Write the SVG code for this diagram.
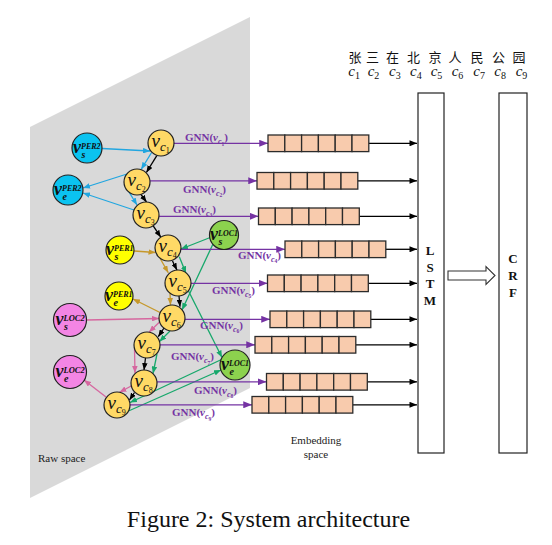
<svg xmlns="http://www.w3.org/2000/svg" xmlns:xlink="http://www.w3.org/1999/xlink" width="552" height="545" viewBox="0 0 552 545">
<style>
.plane{fill:#D9D9D9}
.cn{fill:#FFD966;stroke:#222;stroke-width:1.2}
.cy{fill:#0BC3F0;stroke:#222;stroke-width:1.2}
.ye{fill:#FFFF00;stroke:#222;stroke-width:1.2}
.gr{fill:#8CD24E;stroke:#222;stroke-width:1.2}
.pk{fill:#F385E4;stroke:#222;stroke-width:1.2}
.vl{font-family:"Liberation Serif",serif;font-style:italic;font-size:19px;fill:#111}
.vb{font-family:"Liberation Serif",serif;font-style:italic;font-weight:bold;font-size:18px;fill:#111}
.gnn{font-family:"Liberation Serif",serif;font-weight:bold;font-size:11px;fill:#7533A3}
.cell{fill:#F8CBAD;stroke:#2b2b2b;stroke-width:1.3}
.box{fill:#fff;stroke:#222;stroke-width:1.2}
.bl{font-family:"Liberation Serif",serif;font-weight:bold;font-size:13px;fill:#111;text-anchor:middle}
.sm{font-family:"Liberation Serif",serif;font-size:11px;fill:#222}
.zh{font-family:"Noto Sans CJK SC",sans-serif;font-size:13px;fill:#111;text-anchor:middle}
.ci{font-family:"Liberation Serif",serif;font-style:italic;font-size:15px;fill:#111}
.e{fill:none;stroke-width:1.3}
.k{stroke:#000}
.c{stroke:#22A6E0}
.g{stroke:#C6982A}
.n{stroke:#17A86B}
.p{stroke:#D6679F}
.u{stroke:#7533A3}
</style>
<defs>
<marker id="mk" viewBox="0 0 10 8" refX="10" refY="4" markerWidth="7" markerHeight="5.6" markerUnits="userSpaceOnUse" orient="auto"><path d="M0,0L10,4L0,8z" fill="#000"/></marker>
<marker id="mc" viewBox="0 0 10 8" refX="10" refY="4" markerWidth="7" markerHeight="5.6" markerUnits="userSpaceOnUse" orient="auto"><path d="M0,0L10,4L0,8z" fill="#22A6E0"/></marker>
<marker id="mg" viewBox="0 0 10 8" refX="10" refY="4" markerWidth="7" markerHeight="5.6" markerUnits="userSpaceOnUse" orient="auto"><path d="M0,0L10,4L0,8z" fill="#C6982A"/></marker>
<marker id="mn" viewBox="0 0 10 8" refX="10" refY="4" markerWidth="7" markerHeight="5.6" markerUnits="userSpaceOnUse" orient="auto"><path d="M0,0L10,4L0,8z" fill="#17A86B"/></marker>
<marker id="mp" viewBox="0 0 10 8" refX="10" refY="4" markerWidth="7" markerHeight="5.6" markerUnits="userSpaceOnUse" orient="auto"><path d="M0,0L10,4L0,8z" fill="#D6679F"/></marker>
<marker id="mu" viewBox="0 0 10 8" refX="10" refY="4" markerWidth="9" markerHeight="7" markerUnits="userSpaceOnUse" orient="auto"><path d="M0,0L10,4L0,8z" fill="#7533A3"/></marker>
<marker id="ml" viewBox="0 0 10 8" refX="10" refY="4" markerWidth="8" markerHeight="6" markerUnits="userSpaceOnUse" orient="auto"><path d="M0,0L10,4L0,8z" fill="#000"/></marker>
<g id="bar">
<rect class="cell" x="0" y="0" width="16.8" height="16.6"/>
<rect class="cell" x="16.8" y="0" width="16.8" height="16.6"/>
<rect class="cell" x="33.6" y="0" width="16.8" height="16.6"/>
<rect class="cell" x="50.4" y="0" width="16.8" height="16.6"/>
<rect class="cell" x="67.2" y="0" width="16.8" height="16.6"/>
<rect class="cell" x="84" y="0" width="16.8" height="16.6"/>
</g>
</defs>
<rect width="552" height="545" fill="#fff"/>
<polygon class="plane" points="30,127 250,17 250,388 30,498"/>
<text class="sm" x="38" y="462">Raw space</text>
<text class="sm" x="316" y="444" text-anchor="middle">Embedding</text>
<text class="sm" x="316" y="458" text-anchor="middle">space</text>

<g id="tokens">
<text class="zh" x="355" y="62">张</text>
<text class="zh" x="372.5" y="62">三</text>
<text class="zh" x="392.5" y="62">在</text>
<text class="zh" x="413.5" y="62">北</text>
<text class="zh" x="435" y="62">京</text>
<text class="zh" x="455" y="62">人</text>
<text class="zh" x="477" y="62">民</text>
<text class="zh" x="498.5" y="62">公</text>
<text class="zh" x="519" y="62">园</text>
<text class="ci" x="348.3" y="76">c<tspan font-size="10" font-style="normal" dy="3">1</tspan></text>
<text class="ci" x="367.7" y="76">c<tspan font-size="10" font-style="normal" dy="3">2</tspan></text>
<text class="ci" x="389" y="76">c<tspan font-size="10" font-style="normal" dy="3">3</tspan></text>
<text class="ci" x="410" y="76">c<tspan font-size="10" font-style="normal" dy="3">4</tspan></text>
<text class="ci" x="430.7" y="76">c<tspan font-size="10" font-style="normal" dy="3">5</tspan></text>
<text class="ci" x="451.7" y="76">c<tspan font-size="10" font-style="normal" dy="3">6</tspan></text>
<text class="ci" x="473.3" y="76">c<tspan font-size="10" font-style="normal" dy="3">7</tspan></text>
<text class="ci" x="494.3" y="76">c<tspan font-size="10" font-style="normal" dy="3">8</tspan></text>
<text class="ci" x="515.7" y="76">c<tspan font-size="10" font-style="normal" dy="3">9</tspan></text>
</g>

<g id="connectors">
<line class="e k" x1="156.8" y1="155.7" x2="146.4" y2="172.5" marker-end="url(#mk)"/>
<line class="e k" x1="141" y1="194.5" x2="146.5" y2="202" marker-end="url(#mk)"/>
<line class="e k" x1="153.2" y1="225.8" x2="160.8" y2="237.2" marker-end="url(#mk)"/>
<line class="e k" x1="172.5" y1="261" x2="177" y2="270.1" marker-end="url(#mk)"/>
<line class="e k" x1="179" y1="296" x2="180" y2="306.7" marker-end="url(#mk)"/>
<line class="e k" x1="164" y1="328" x2="158.3" y2="336.7" marker-end="url(#mk)"/>
<line class="e k" x1="145.5" y1="358" x2="144" y2="370" marker-end="url(#mk)"/>
<line class="e k" x1="134.5" y1="392.5" x2="129.5" y2="400" marker-end="url(#mk)"/>
<line class="e c" x1="102" y1="148.5" x2="150" y2="151" marker-end="url(#mc)"/>
<line class="e c" x1="151.6" y1="152.5" x2="141.2" y2="169.3" marker-end="url(#mc)"/>
<line class="e c" x1="127" y1="174" x2="83" y2="188" marker-end="url(#mc)"/>
<line class="e c" x1="129" y1="192" x2="137" y2="205" marker-end="url(#mc)"/>
<line class="e c" x1="134" y1="210" x2="83" y2="193" marker-end="url(#mc)"/>
<line class="e g" x1="134" y1="251" x2="155.5" y2="252.5" marker-end="url(#mg)"/>
<line class="e g" x1="160" y1="258.3" x2="168.3" y2="272.7" marker-end="url(#mg)"/>
<line class="e g" x1="170" y1="293" x2="170.5" y2="305" marker-end="url(#mg)"/>
<line class="e g" x1="160" y1="312.5" x2="133" y2="299" marker-end="url(#mg)"/>
<line class="e n" x1="210.2" y1="237.5" x2="181" y2="249" marker-end="url(#mn)"/>
<line class="e n" x1="179.3" y1="256.7" x2="186" y2="273.3" marker-end="url(#mn)"/>
<line class="e n" x1="213" y1="244" x2="182" y2="310" marker-end="url(#mn)"/>
<line class="e n" x1="188.5" y1="291" x2="222" y2="357.5" marker-end="url(#mn)"/>
<line class="e n" x1="170" y1="331" x2="159.5" y2="341.5" marker-end="url(#mn)"/>
<line class="e n" x1="157" y1="354" x2="153" y2="373.5" marker-end="url(#mn)"/>
<line class="e n" x1="221.5" y1="359.5" x2="130" y2="402.5" marker-end="url(#mn)"/>
<line class="e n" x1="128.5" y1="411" x2="221" y2="370" marker-end="url(#mn)"/>
<line class="e p" x1="86.5" y1="320" x2="159" y2="318.5" marker-end="url(#mp)"/>
<line class="e p" x1="159.5" y1="322" x2="149" y2="332.2" marker-end="url(#mp)"/>
<line class="e p" x1="134.5" y1="349" x2="135" y2="373" marker-end="url(#mp)"/>
<line class="e p" x1="131.2" y1="386" x2="119.5" y2="392.3" marker-end="url(#mp)"/>
<line class="e p" x1="106" y1="397" x2="84" y2="380" marker-end="url(#mp)"/>
<line class="e u" x1="174" y1="143.3" x2="268" y2="143.3" marker-end="url(#mu)"/>
<line class="e u" x1="150" y1="180.8" x2="257" y2="180.8" marker-end="url(#mu)"/>
<line class="e u" x1="159" y1="216.3" x2="258.5" y2="216.3" marker-end="url(#mu)"/>
<line class="e u" x1="181" y1="249.3" x2="285" y2="249.3" marker-end="url(#mu)"/>
<line class="e u" x1="191" y1="283.3" x2="267.5" y2="283.3" marker-end="url(#mu)"/>
<line class="e u" x1="185" y1="319.3" x2="270" y2="319.3" marker-end="url(#mu)"/>
<line class="e u" x1="160" y1="344.8" x2="255" y2="344.8" marker-end="url(#mu)"/>
<line class="e u" x1="157" y1="381.8" x2="266.5" y2="381.8" marker-end="url(#mu)"/>
<line class="e u" x1="130" y1="404.8" x2="252" y2="404.8" marker-end="url(#mu)"/>
<line class="e k" x1="368.8" y1="143.3" x2="417" y2="143.3" marker-end="url(#ml)"/>
<line class="e k" x1="357.8" y1="180.8" x2="417" y2="180.8" marker-end="url(#ml)"/>
<line class="e k" x1="359.3" y1="216.3" x2="417" y2="216.3" marker-end="url(#ml)"/>
<line class="e k" x1="385.8" y1="249.3" x2="417" y2="249.3" marker-end="url(#ml)"/>
<line class="e k" x1="368.3" y1="283.3" x2="417" y2="283.3" marker-end="url(#ml)"/>
<line class="e k" x1="370.8" y1="319.3" x2="417" y2="319.3" marker-end="url(#ml)"/>
<line class="e k" x1="355.8" y1="344.8" x2="417" y2="344.8" marker-end="url(#ml)"/>
<line class="e k" x1="367.3" y1="381.8" x2="417" y2="381.8" marker-end="url(#ml)"/>
<line class="e k" x1="352.8" y1="404.8" x2="417" y2="404.8" marker-end="url(#ml)"/>
<path d="M448,271L486,271L486,266.5L495,275.5L486,284.5L486,280L448,280Z" fill="#fff" stroke="#333" stroke-width="1.1"/>
</g>

<g id="gnn-labels">
<text class="gnn" x="185" y="141">GNN(<tspan font-style="italic">v</tspan><tspan font-style="italic" font-size="8" dy="3">c</tspan><tspan font-size="5.5" dy="1.5">1</tspan><tspan dy="-4.5">)</tspan></text>
<text class="gnn" x="183" y="192.5">GNN(<tspan font-style="italic">v</tspan><tspan font-style="italic" font-size="8" dy="3">c</tspan><tspan font-size="5.5" dy="1.5">2</tspan><tspan dy="-4.5">)</tspan></text>
<text class="gnn" x="173" y="212.5">GNN(<tspan font-style="italic">v</tspan><tspan font-style="italic" font-size="8" dy="3">c</tspan><tspan font-size="5.5" dy="1.5">3</tspan><tspan dy="-4.5">)</tspan></text>
<text class="gnn" x="238" y="258.5">GNN(<tspan font-style="italic">v</tspan><tspan font-style="italic" font-size="8" dy="3">c</tspan><tspan font-size="5.5" dy="1.5">4</tspan><tspan dy="-4.5">)</tspan></text>
<text class="gnn" x="212" y="293.5">GNN(<tspan font-style="italic">v</tspan><tspan font-style="italic" font-size="8" dy="3">c</tspan><tspan font-size="5.5" dy="1.5">5</tspan><tspan dy="-4.5">)</tspan></text>
<text class="gnn" x="200" y="328.5">GNN(<tspan font-style="italic">v</tspan><tspan font-style="italic" font-size="8" dy="3">c</tspan><tspan font-size="5.5" dy="1.5">6</tspan><tspan dy="-4.5">)</tspan></text>
<text class="gnn" x="171" y="360">GNN(<tspan font-style="italic">v</tspan><tspan font-style="italic" font-size="8" dy="3">c</tspan><tspan font-size="5.5" dy="1.5">7</tspan><tspan dy="-4.5">)</tspan></text>
<text class="gnn" x="194" y="393.5">GNN(<tspan font-style="italic">v</tspan><tspan font-style="italic" font-size="8" dy="3">c</tspan><tspan font-size="5.5" dy="1.5">8</tspan><tspan dy="-4.5">)</tspan></text>
<text class="gnn" x="172" y="416">GNN(<tspan font-style="italic">v</tspan><tspan font-style="italic" font-size="8" dy="3">c</tspan><tspan font-size="5.5" dy="1.5">9</tspan><tspan dy="-4.5">)</tspan></text>
</g>

<g id="node-c1"><circle class="cn" cx="161" cy="143" r="13"/><text class="vl" x="151.5" y="147">v<tspan font-size="13" dy="4">c</tspan><tspan font-size="8" font-style="normal" dy="2">1</tspan></text></g>
<g id="node-c2"><circle class="cn" cx="137" cy="182" r="13"/><text class="vl" x="127.5" y="186">v<tspan font-size="13" dy="4">c</tspan><tspan font-size="8" font-style="normal" dy="2">2</tspan></text></g>
<g id="node-c3"><circle class="cn" cx="146" cy="215" r="13"/><text class="vl" x="136.5" y="219">v<tspan font-size="13" dy="4">c</tspan><tspan font-size="8" font-style="normal" dy="2">3</tspan></text></g>
<g id="node-c4"><circle class="cn" cx="168" cy="248" r="13"/><text class="vl" x="158.5" y="252">v<tspan font-size="13" dy="4">c</tspan><tspan font-size="8" font-style="normal" dy="2">4</tspan></text></g>
<g id="node-c5"><circle class="cn" cx="178" cy="283" r="13"/><text class="vl" x="168.5" y="287">v<tspan font-size="13" dy="4">c</tspan><tspan font-size="8" font-style="normal" dy="2">5</tspan></text></g>
<g id="node-c6"><circle class="cn" cx="172" cy="318" r="13"/><text class="vl" x="162.5" y="322">v<tspan font-size="13" dy="4">c</tspan><tspan font-size="8" font-style="normal" dy="2">6</tspan></text></g>
<g id="node-c7"><circle class="cn" cx="147" cy="345" r="13"/><text class="vl" x="137.5" y="349">v<tspan font-size="13" dy="4">c</tspan><tspan font-size="8" font-style="normal" dy="2">7</tspan></text></g>
<g id="node-c8"><circle class="cn" cx="144" cy="383" r="13"/><text class="vl" x="134.5" y="387">v<tspan font-size="13" dy="4">c</tspan><tspan font-size="8" font-style="normal" dy="2">8</tspan></text></g>
<g id="node-c9"><circle class="cn" cx="117" cy="405" r="13"/><text class="vl" x="107.5" y="409">v<tspan font-size="13" dy="4">c</tspan><tspan font-size="8" font-style="normal" dy="2">9</tspan></text></g>

<g id="node-s-per2"><circle class="cy" cx="87" cy="148" r="15"/><text class="vb" x="73" y="153">v<tspan font-size="8" dy="-4">PER2</tspan><tspan font-size="10" x="81.5" dy="8.5">s</tspan></text></g>
<g id="node-e-per2"><circle class="cy" cx="68" cy="190" r="15"/><text class="vb" x="54" y="195">v<tspan font-size="8" dy="-4">PER2</tspan><tspan font-size="10" x="62.5" dy="8.5">e</tspan></text></g>
<g id="node-s-per1"><circle class="ye" cx="120" cy="250" r="14"/><text class="vb" x="106" y="255">v<tspan font-size="8" dy="-4">PER1</tspan><tspan font-size="10" x="114.5" dy="8.5">s</tspan></text></g>
<g id="node-e-per1"><circle class="ye" cx="119" cy="296" r="14"/><text class="vb" x="105" y="301">v<tspan font-size="8" dy="-4">PER1</tspan><tspan font-size="10" x="113.5" dy="8.5">e</tspan></text></g>
<g id="node-s-loc1"><circle class="gr" cx="224" cy="235" r="14.5"/><text class="vb" x="210" y="240">v<tspan font-size="8" dy="-4">LOC1</tspan><tspan font-size="10" x="218.5" dy="8.5">s</tspan></text></g>
<g id="node-e-loc1"><circle class="gr" cx="235" cy="365" r="15"/><text class="vb" x="221" y="370">v<tspan font-size="8" dy="-4">LOC1</tspan><tspan font-size="10" x="229.5" dy="8.5">e</tspan></text></g>
<g id="node-s-loc2"><circle class="pk" cx="70" cy="320" r="16.5"/><text class="vb" x="55.5" y="325">v<tspan font-size="8.5" dy="-4">LOC2</tspan><tspan font-size="10" x="64" dy="8.5">s</tspan></text></g>
<g id="node-e-loc2"><circle class="pk" cx="70" cy="372" r="16.5"/><text class="vb" x="55.5" y="377">v<tspan font-size="8.5" dy="-4">LOC2</tspan><tspan font-size="10" x="64" dy="8.5">e</tspan></text></g>

<g id="emb-1"><use xlink:href="#bar" x="268" y="135"/></g>
<g id="emb-2"><use xlink:href="#bar" x="257" y="172.5"/></g>
<g id="emb-3"><use xlink:href="#bar" x="258.5" y="208"/></g>
<g id="emb-4"><use xlink:href="#bar" x="285" y="241"/></g>
<g id="emb-5"><use xlink:href="#bar" x="267.5" y="275"/></g>
<g id="emb-6"><use xlink:href="#bar" x="270" y="311"/></g>
<g id="emb-7"><use xlink:href="#bar" x="255" y="336.5"/></g>
<g id="emb-8"><use xlink:href="#bar" x="266.5" y="373.5"/></g>
<g id="emb-9"><use xlink:href="#bar" x="252" y="396.5"/></g>

<g id="lstm"><rect class="box" x="418" y="93" width="26" height="360"/>
<text class="bl" x="430" y="255">L</text><text class="bl" x="430" y="272">S</text><text class="bl" x="430" y="288">T</text><text class="bl" x="430" y="305">M</text></g>
<g id="crf"><rect class="box" x="499" y="93" width="28" height="360"/>
<text class="bl" x="513" y="263">C</text><text class="bl" x="513" y="280">R</text><text class="bl" x="513" y="297">F</text></g>

<text x="268.5" y="527" text-anchor="middle" font-family="Liberation Serif, serif" font-size="24" fill="#111">Figure 2: System architecture</text>
</svg>
